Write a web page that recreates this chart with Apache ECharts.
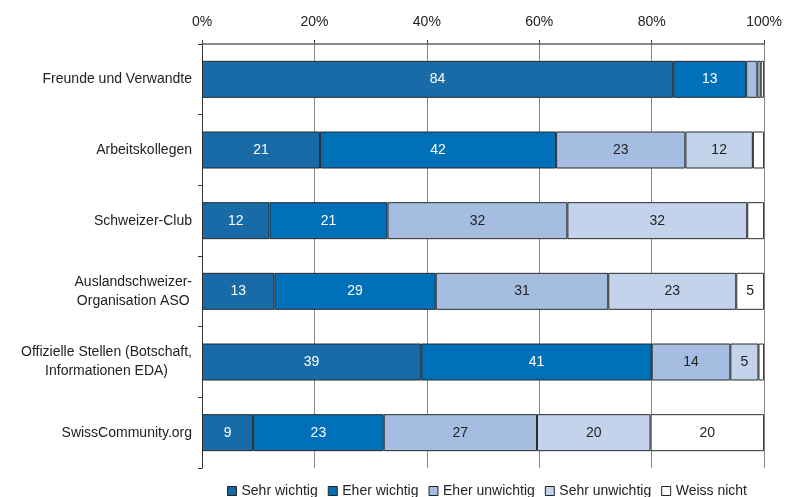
<!DOCTYPE html>
<html>
<head>
<meta charset="utf-8">
<script src="https://cdn.jsdelivr.net/npm/echarts@6/dist/echarts.min.js"></script>
<style>
  html, body { margin: 0; padding: 0; background: #fff; }
  #chart { width: 785px; height: 497px; }
</style>
</head>
<body>
<div id="chart"></div>
<script>
// Rows, top to bottom
const categories = [
  'Freunde und Verwandte',
  'Arbeitskollegen',
  'Schweizer-Club',
  'Auslandschweizer-\nOrganisation ASO',
  'Offizielle Stellen (Botschaft,\nInformationen EDA)',
  'SwissCommunity.org'
];

// Answer shares (%) per row
const sehrWichtig    = [84, 21, 12, 13, 39, 9];
const eherWichtig    = [13, 42, 21, 29, 41, 23];
const eherUnwichtig  = [2, 23, 32, 31, 14, 27];
const sehrUnwichtig  = [0.6, 12, 32, 23, 5, 20];
const weissNicht     = [0.6, 2, 3, 5, 1, 20];

const seriesNames = ['Sehr wichtig', 'Eher wichtig', 'Eher unwichtig', 'Sehr unwichtig', 'Weiss nicht'];
const xTicks = [0, 20, 40, 60, 80, 100];

const allSeries = [sehrWichtig, eherWichtig, eherUnwichtig, sehrUnwichtig, weissNicht];
const colors = ['#186ba7', '#0070b8', '#a4bde1', '#c3d3ec', '#ffffff'];
const labelColors = ['#ffffff', '#ffffff', '#222222', '#222222', '#222222'];

// 100% stacked: each row is scaled to its own total
const rowTotals = categories.map((_, i) => allSeries.reduce((s, arr) => s + arr[i], 0));

const FONT = 'Liberation Sans, Arial, sans-serif';

const chart = echarts.init(document.getElementById('chart'));
chart.setOption({
  animation: false,
  textStyle: { fontFamily: FONT },
  grid: { left: 202, right: 20, top: 44, bottom: 29, containLabel: false },
  legend: {
    top: 484,
    left: 227,
    padding: 0,
    itemWidth: 9,
    itemHeight: 9,
    itemGap: 10,
    icon: 'rect',
    textStyle: { fontSize: 14, color: '#222', fontFamily: FONT },
    data: seriesNames.map((n, i) => ({ name: n, itemStyle: { color: colors[i], borderColor: '#222', borderWidth: 1 } }))
  },
  xAxis: {
    type: 'value',
    position: 'top',
    min: xTicks[0],
    max: xTicks[xTicks.length - 1],
    interval: 20,
    axisLine: { show: true, lineStyle: { color: '#666', width: 1.5 } },
    axisTick: { show: true, length: 4, lineStyle: { color: '#444' } },
    axisLabel: { formatter: '{value}%', fontSize: 14, color: '#222', margin: 15 },
    splitLine: { show: true, lineStyle: { color: '#8a8a8a', width: 1 } }
  },
  yAxis: {
    type: 'category',
    inverse: true,
    data: categories,
    axisLine: { show: true, lineStyle: { color: '#333', width: 1 } },
    axisTick: { show: true, length: 4, alignWithLabel: false, lineStyle: { color: '#333' } },
    axisLabel: {
      fontSize: 14,
      color: '#222',
      margin: 10,
      align: 'right',
      // two-line labels are centred line by line
      formatter: v => v.split('\n').map(l => '{c|' + l + '}').join('\n'),
      rich: { c: { align: 'center', fontSize: 14, lineHeight: 19, color: '#222', fontFamily: FONT } }
    }
  },
  series: allSeries.map((arr, si) => ({
    name: seriesNames[si],
    type: 'bar',
    stack: 'total',
    barWidth: 37,
    itemStyle: { color: colors[si], borderColor: '#2a2a2a', borderWidth: 1 },
    label: {
      show: true,
      position: 'inside',
      fontSize: 14,
      color: labelColors[si],
      formatter: p => (arr[p.dataIndex] >= 5 ? String(arr[p.dataIndex]) : '')
    },
    data: arr.map((v, i) => v / rowTotals[i] * 100)
  }))
});
</script>
</body>
</html>
